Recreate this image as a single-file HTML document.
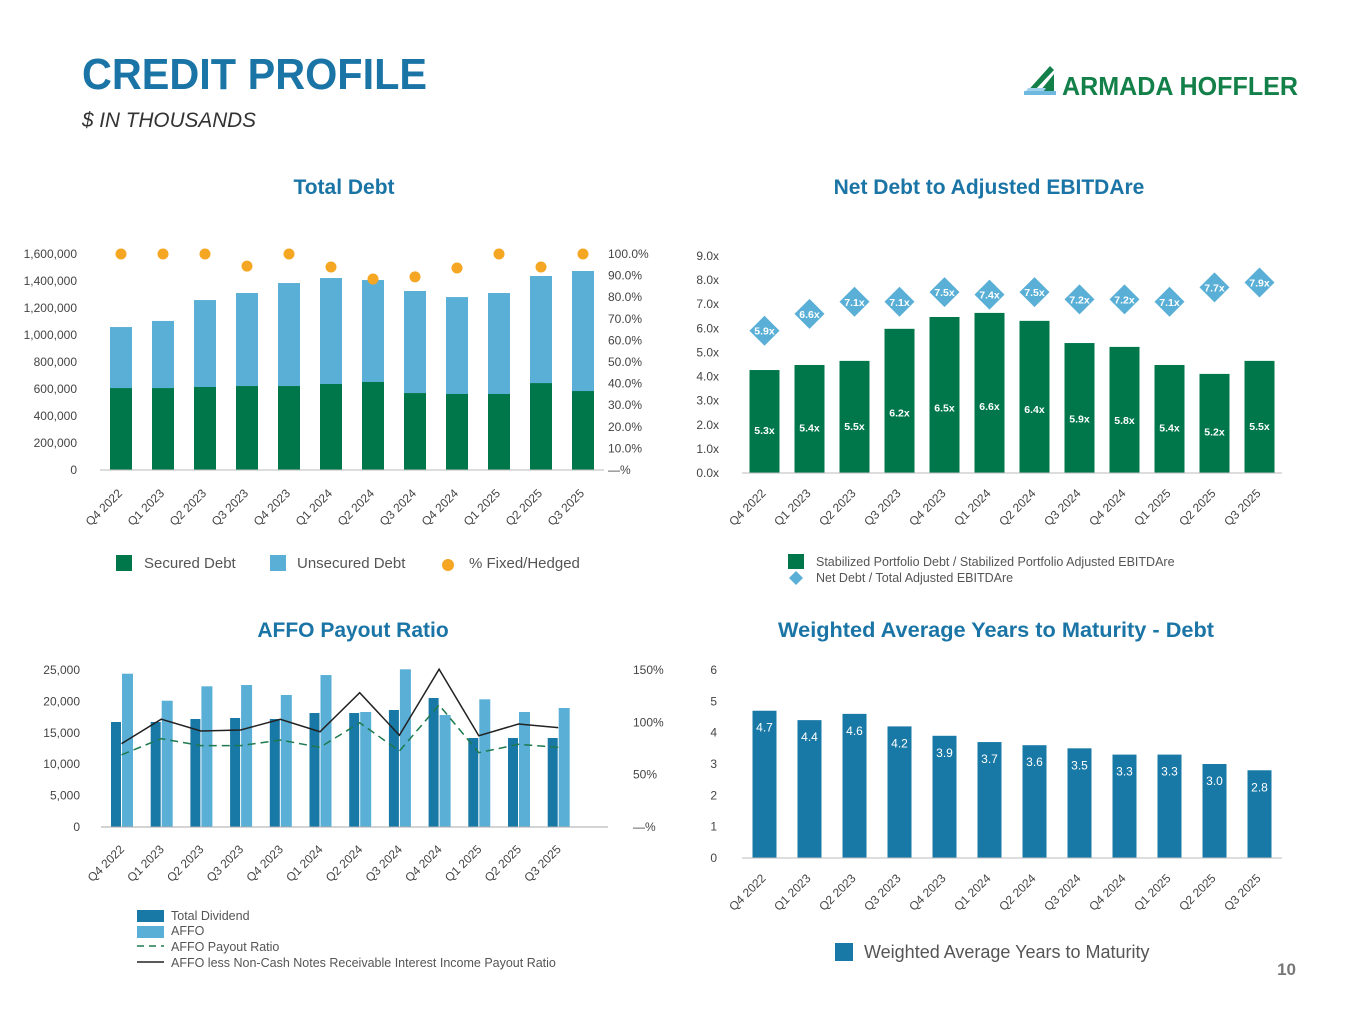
<!DOCTYPE html>
<html><head><meta charset="utf-8"><style>
html,body{margin:0;padding:0;background:#fff;width:1365px;height:1024px;overflow:hidden}
svg{display:block;font-family:"Liberation Sans",sans-serif}
</style></head><body>
<svg id="page" width="1365" height="1024" viewBox="0 0 1365 1024" xmlns="http://www.w3.org/2000/svg">
<text x="82" y="89" font-size="44" font-weight="bold" fill="#1a75a6" textLength="345" lengthAdjust="spacingAndGlyphs">CREDIT PROFILE</text>
<text x="82" y="127" font-size="21" font-style="italic" fill="#333" textLength="174" lengthAdjust="spacingAndGlyphs">$ IN THOUSANDS</text>
<g>
<polygon points="1024,95 1050,66 1054,70 1034,91" fill="#13804a"/>
<polygon points="1040,91 1054,74 1054,91" fill="#13804a"/>
<rect x="1024" y="91" width="32" height="4" fill="#6fb8e0"/>
<polygon points="1028,88 1046,88 1044,91 1026,91" fill="#9fd0ec"/>
<text x="1062" y="95" font-size="26" font-weight="bold" fill="#13804a" textLength="236" lengthAdjust="spacingAndGlyphs">ARMADA HOFFLER</text>
</g>
<text x="1296" y="975" font-size="17" font-weight="bold" fill="#777" text-anchor="end">10</text>

<text x="344" y="194" font-size="21" font-weight="bold" fill="#1a75a6" text-anchor="middle">Total Debt</text>
<text x="989" y="194" font-size="21" font-weight="bold" fill="#1a75a6" text-anchor="middle">Net Debt to Adjusted EBITDAre</text>
<text x="353" y="637" font-size="21" font-weight="bold" fill="#1a75a6" text-anchor="middle">AFFO Payout Ratio</text>
<text x="996" y="637" font-size="21" font-weight="bold" fill="#1a75a6" text-anchor="middle" textLength="436" lengthAdjust="spacingAndGlyphs">Weighted Average Years to Maturity - Debt</text>

<g id="c1"></g><g id="c2"></g><g id="c3"></g><g id="c4"></g>

<g font-size="15" fill="#555">
<rect x="116" y="555" width="16" height="16" fill="#00774a"/><text x="144" y="568">Secured Debt</text>
<rect x="270" y="555" width="16" height="16" fill="#5aafd6"/><text x="297" y="568">Unsecured Debt</text>
<circle cx="448" cy="565" r="6" fill="#f5a623"/><text x="469" y="568">% Fixed/Hedged</text>
</g>
<g font-size="12.5" fill="#555">
<rect x="788" y="554" width="16" height="15" fill="#00774a"/><text x="816" y="566">Stabilized Portfolio Debt / Stabilized Portfolio Adjusted EBITDAre</text>
<polygon points="796,571 803,578 796,585 789,578" fill="#5aafd6"/><text x="816" y="582">Net Debt / Total Adjusted EBITDAre</text>
</g>
<g font-size="12.5" fill="#555">
<rect x="137" y="910" width="27" height="12" fill="#1878a6"/><text x="171" y="920">Total Dividend</text>
<rect x="137" y="926" width="27" height="12" fill="#5aafd6"/><text x="171" y="935">AFFO</text>
<line x1="137" y1="946" x2="164" y2="946" stroke="#1e7a4e" stroke-width="1.5" stroke-dasharray="7,5"/><text x="171" y="951">AFFO Payout Ratio</text>
<line x1="137" y1="962" x2="164" y2="962" stroke="#222" stroke-width="1.5"/><text x="171" y="967">AFFO less Non-Cash Notes Receivable Interest Income Payout Ratio</text>
</g>
<g font-size="18" fill="#555">
<rect x="835" y="943" width="18" height="18" fill="#1878a6"/><text x="864" y="958">Weighted Average Years to Maturity</text>
</g>
</svg>
<script>
const quarters = ["Q4 2022","Q1 2023","Q2 2023","Q3 2023","Q4 2023","Q1 2024","Q2 2024","Q3 2024","Q4 2024","Q1 2025","Q2 2025","Q3 2025"];
const securedDebt = [607,607,615,622,622,637,652,570,563,563,644,585];
const totalDebt = [1059,1104,1259,1311,1385,1422,1407,1326,1281,1311,1437,1474];
const fixedHedged = [100,100,100,94.4,100,94.0,88.4,89.4,93.5,100,94.0,100];
const debtTicks = ["0","200,000","400,000","600,000","800,000","1,000,000","1,200,000","1,400,000","1,600,000"];
const pctTicks = ["—%","10.0%","20.0%","30.0%","40.0%","50.0%","60.0%","70.0%","80.0%","90.0%","100.0%"];
const stabilizedBars = [4.27,4.48,4.65,5.98,6.47,6.64,6.31,5.39,5.23,4.48,4.11,4.65];
const stabilizedLabels = ["5.3x","5.4x","5.5x","6.2x","6.5x","6.6x","6.4x","5.9x","5.8x","5.4x","5.2x","5.5x"];
const netDebtTotal = [5.9,6.6,7.1,7.1,7.5,7.4,7.5,7.2,7.2,7.1,7.7,7.9];
const ratioTicks = ["0.0x","1.0x","2.0x","3.0x","4.0x","5.0x","6.0x","7.0x","8.0x","9.0x"];
const totalDividend = [16720,16720,17200,17360,17200,18150,18150,18630,20540,14170,14170,14170];
const affo = [24410,20110,22400,22610,21020,24200,18310,25110,17830,20330,18310,18950];
const affoPayout = [69,84.4,77.7,77.7,83.1,76.1,99.6,72.6,116.6,71,79,76.1];
const affoLessPayout = [79.6,103,91.7,92.7,102.9,91,128.3,87.6,150.7,87.2,98.4,94.9];
const affoTicks = ["0","5,000","10,000","15,000","20,000","25,000"];
const affoPctTicks = ["—%","50%","100%","150%"];
const wamYears = [4.7,4.4,4.6,4.2,3.9,3.7,3.6,3.5,3.3,3.3,3.0,2.8];
const wamTicks = ["0","1","2","3","4","5","6"];

const NS="http://www.w3.org/2000/svg";
function mk(p,tag,at,txt){const e=document.createElementNS(NS,tag);for(const k in at)e.setAttribute(k,at[k]);if(txt!==undefined)e.textContent=txt;p.appendChild(e);return e;}
function xLabels(g,xs,y){quarters.forEach((q,i)=>{const t=mk(g,'text',{x:xs(i)+2,y:y,'font-size':12,fill:'#444','text-anchor':'end',transform:`rotate(-45 ${xs(i)+2} ${y})`},q);

});}

(function(){const g=document.getElementById('c1');

const x0=100,x1=604,yb=470,yt=254,n=12,step=(x1-x0)/n;
const xs=i=>x0+step*(i+0.5);const ys=v=>yb-(v/1600)*(yb-yt);const yp=v=>yb-(v/100)*(yb-yt);
debtTicks.forEach((t,i)=>{const e=mk(g,'text',{x:77,y:ys(i*200)+4,'font-size':12,fill:'#444','text-anchor':'end'},t);
});
pctTicks.forEach((t,i)=>{const e=mk(g,'text',{x:608,y:yp(i*10)+4,'font-size':12,fill:'#444'},t);
});
quarters.forEach((q,i)=>{
const u=mk(g,'rect',{x:xs(i)-11,y:ys(totalDebt[i]),width:22,height:ys(securedDebt[i])-ys(totalDebt[i]),fill:'#5aafd6'});

const s=mk(g,'rect',{x:xs(i)-11,y:ys(securedDebt[i]),width:22,height:yb-ys(securedDebt[i]),fill:'#00774a'});

const c=mk(g,'circle',{cx:xs(i),cy:yp(fixedHedged[i]),r:5.5,fill:'#f5a623'});
});
mk(g,'line',{x1:x0,y1:yb,x2:x1,y2:yb,stroke:'#bbb'});
xLabels(g,xs,494);})();

(function(){const g=document.getElementById('c2');

const x0=742,x1=1282,yb=473,yt=256,n=12,step=(x1-x0)/n;
const xs=i=>x0+step*(i+0.5);const ys=v=>yb-(v/9)*(yb-yt);
ratioTicks.forEach((t,i)=>{const e=mk(g,'text',{x:719,y:ys(i)+4,'font-size':12,fill:'#444','text-anchor':'end'},t);
});
quarters.forEach((q,i)=>{
const b=mk(g,'rect',{x:xs(i)-15,y:ys(stabilizedBars[i]),width:30,height:yb-ys(stabilizedBars[i]),fill:'#00774a'});

const l=mk(g,'text',{x:xs(i),y:ys(stabilizedBars[i]*0.42)+4,'font-size':10.5,'font-weight':'bold',fill:'#fff','text-anchor':'middle'},stabilizedLabels[i]);

const cx=xs(i),cy=ys(netDebtTotal[i]);
const d=mk(g,'polygon',{points:`${cx},${cy-15} ${cx+15},${cy} ${cx},${cy+15} ${cx-15},${cy}`,fill:'#5aafd6'});

const dl=mk(g,'text',{x:cx,y:cy+4,'font-size':10.5,'font-weight':'bold',fill:'#fff','text-anchor':'middle'},netDebtTotal[i].toFixed(1)+'x');
});
mk(g,'line',{x1:x0,y1:yb,x2:x1,y2:yb,stroke:'#bbb'});
xLabels(g,xs,494);})();

(function(){const g=document.getElementById('c3');

const x0=101,step=39.7,yb=827,yt=670;
const xd=i=>x0+10+step*i;const ys=v=>yb-(v/25000)*(yb-yt);const yp=v=>yb-(v/150)*(yb-yt);
affoTicks.forEach((t,i)=>{const e=mk(g,'text',{x:80,y:ys(i*5000)+4,'font-size':12,fill:'#444','text-anchor':'end'},t);
});
affoPctTicks.forEach((t,i)=>{const e=mk(g,'text',{x:633,y:yp(i*50)+4,'font-size':12,fill:'#444'},t);
});
quarters.forEach((q,i)=>{
const a=mk(g,'rect',{x:xd(i),y:ys(totalDividend[i]),width:10,height:yb-ys(totalDividend[i]),fill:'#1878a6'});

const b=mk(g,'rect',{x:xd(i)+11,y:ys(affo[i]),width:11,height:yb-ys(affo[i]),fill:'#5aafd6'});
});
const p1=mk(g,'polyline',{points:affoPayout.map((v,i)=>`${xd(i)+10.5},${yp(v)}`).join(' '),fill:'none',stroke:'#1e7a4e','stroke-width':1.5,'stroke-dasharray':'8,5'});

const p2=mk(g,'polyline',{points:affoLessPayout.map((v,i)=>`${xd(i)+10.5},${yp(v)}`).join(' '),fill:'none',stroke:'#222','stroke-width':1.5});

mk(g,'line',{x1:101,y1:yb,x2:608,y2:yb,stroke:'#aaa'});
xLabels(g,i=>xd(i)+12,850);})();

(function(){const g=document.getElementById('c4');

const x0=742,x1=1282,yb=858,yt=670,n=12,step=(x1-x0)/n;
const xs=i=>x0+step*(i+0.5);const ys=v=>yb-(v/6)*(yb-yt);
wamTicks.forEach((t,i)=>{const e=mk(g,'text',{x:717,y:ys(i)+4,'font-size':12,fill:'#444','text-anchor':'end'},t);
});
quarters.forEach((q,i)=>{
const b=mk(g,'rect',{x:xs(i)-12,y:ys(wamYears[i]),width:24,height:yb-ys(wamYears[i]),fill:'#1878a6'});

const l=mk(g,'text',{x:xs(i),y:ys(wamYears[i])+21,'font-size':12,fill:'#fff','text-anchor':'middle'},wamYears[i].toFixed(1));
});
mk(g,'line',{x1:x0,y1:yb,x2:x1,y2:yb,stroke:'#bbb'});
xLabels(g,xs,879);})();
</script>
</body></html>
